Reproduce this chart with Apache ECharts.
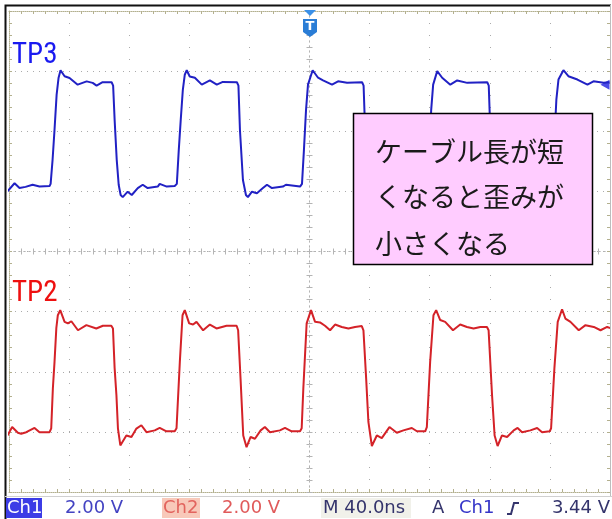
<!DOCTYPE html>
<html><head><meta charset="utf-8">
<script src="https://cdn.jsdelivr.net/npm/echarts@6/dist/echarts.min.js"></script>
<style>html,body{margin:0;padding:0;background:#fff}#c{width:612px;height:519px}</style>
</head><body><div id="c"></div>
<script>
// Time axis (ns) and screen voltage (V) — 40 ns/div, 2 V/div
const X_MIN = -200, X_MAX = 200, X_DIV = 40;
const Y_MIN = -8, Y_MAX = 8, Y_DIV = 2;
const CH1_OFFSET = 2.11, TRIG_LEVEL = 3.44;

const tp3Time = [-201,-196.3,-193,-189,-184.3,-179.7,-173,-172.3,-171,-169.7,-168.3,-167,-165.7,-163,-159.7,-154.3,-148.3,-144.3,-141.7,-137.7,-131.7,-130.7,-129.7,-128.3,-127,-125.7,-124.3,-121,-118.3,-114.3,-111,-107.7,-101,-99.7,-95,-89.7,-88.3,-87,-85.7,-84.3,-83,-81.7,-79.7,-76.3,-71.7,-66.3,-61.7,-57.7,-48.3,-47.3,-46.3,-44.3,-42.3,-41,-38.3,-35,-31,-28.3,-25,-17.7,-15.7,-6.3,-5,-3.7,-2.3,-1,2.1,5.7,9,15,19,25,35,36,37,39,41,42.3,45,48.3,52.3,55,58.3,65.7,67.7,77,78.3,79.7,81,82.3,85,88.3,93.7,98.3,105,118.3,119.3,120.3,122.3,124.3,125.7,128.3,131.7,135.7,138.3,141.7,147,151.7,160.3,161.3,163,164.3,165.7,169,172.3,178.3,185,189,195.7,199.7];
const tp3Volt = [2.0,2.27,2.11,2.15,2.22,2.16,2.18,2.25,3.05,4.05,5.22,5.78,6.03,5.83,5.77,5.55,5.66,5.61,5.52,5.63,5.63,5.52,4.38,3.05,2.22,1.88,1.81,1.99,1.88,2.11,2.22,2.11,2.16,2.25,2.16,2.18,2.25,3.38,4.38,5.38,5.88,6.03,5.82,5.78,5.55,5.69,5.55,5.64,5.63,5.52,4.05,2.38,1.88,1.81,1.99,1.94,2.11,2.22,2.11,2.16,2.22,2.16,2.25,3.38,4.72,5.55,6.03,5.78,5.69,5.55,5.66,5.61,5.63,5.52,4.05,2.38,1.88,1.81,1.99,1.92,2.12,2.22,2.12,2.16,2.22,2.17,2.25,3.38,4.72,5.55,6.0,5.78,5.55,5.69,5.61,5.63,5.52,4.05,2.38,1.88,1.81,1.99,1.95,2.12,2.22,2.12,2.16,2.22,2.17,2.25,3.72,5.05,5.72,6.03,5.83,5.72,5.55,5.66,5.61,5.63];

const tp2Time = [-201,-197.9,-194.1,-191.9,-188.5,-183,-179.7,-173,-171.9,-170.8,-169.7,-168.5,-167.5,-165.9,-163,-160.8,-158.5,-154.1,-148.5,-141.9,-137.5,-131.9,-130.8,-129.7,-128.5,-127.5,-125.9,-124.8,-121.9,-118.5,-115.2,-111.9,-108.5,-103,-99.7,-95.2,-89.7,-88.5,-86.3,-84.5,-83,-80.1,-77.5,-75.2,-70.8,-66.3,-61.9,-55.2,-48.5,-47.5,-45.9,-44.1,-41.9,-39.2,-36.3,-32.5,-29.7,-26.3,-19.7,-16.3,-11.9,-6.3,-5.2,-4.1,-1.9,1,3.7,7,10.3,13.7,17,21.5,25.9,30.3,34.8,35.9,37.7,39.2,41.5,44.8,48.1,53.2,58.1,62.5,68.1,71.5,77,78.1,80.3,82.5,84.3,87,90.3,95.5,100.3,104.8,109.2,113.7,118.1,119.2,121.5,123.2,125.2,128.1,131.5,135.9,138.5,141.5,147,151.5,154.8,159.9,160.8,163,165.2,168.1,170.3,173.7,179.2,183.7,189.2,193.7,198.1,200.3];
const tp2Volt = [-6.12,-5.84,-6.03,-6.06,-6.01,-5.87,-6.01,-6.01,-5.88,-4.55,-3.67,-2.55,-2.12,-1.95,-2.34,-2.39,-2.32,-2.62,-2.45,-2.56,-2.47,-2.47,-2.56,-3.88,-4.78,-5.88,-6.45,-6.51,-6.12,-6.17,-5.89,-5.78,-6.01,-5.95,-5.87,-5.98,-5.98,-5.88,-3.67,-2.12,-1.95,-2.39,-2.43,-2.34,-2.62,-2.43,-2.56,-2.47,-2.47,-2.62,-4.22,-6.12,-6.51,-6.17,-6.23,-5.95,-5.84,-6.01,-5.95,-5.87,-5.98,-5.98,-5.88,-4.55,-2.39,-1.95,-2.34,-2.36,-2.47,-2.62,-2.43,-2.51,-2.56,-2.51,-2.48,-2.62,-4.22,-5.67,-6.47,-6.12,-6.21,-5.84,-6.03,-5.95,-5.87,-5.98,-5.98,-5.84,-3.67,-2.12,-1.95,-2.28,-2.34,-2.62,-2.43,-2.51,-2.56,-2.51,-2.51,-2.62,-4.78,-6.12,-6.47,-6.12,-6.17,-5.95,-5.87,-6.01,-5.95,-5.87,-6.01,-5.98,-5.88,-3.88,-2.34,-1.92,-2.23,-2.34,-2.62,-2.45,-2.51,-2.62,-2.51,-2.55];

const seriesNames = ['TP3', 'TP2'];
const noteLines = ['ケーブル長が短', 'くなると歪みが', '小さくなる'];
const statusItems = { ch1Scale: '2.00 V', ch2Scale: '2.00 V', timebase: 'M 40.0ns', trigSrc: 'Ch1', trigLevel: '3.44 V' };

const zip = (a, b) => a.map((v, i) => [v, b[i]]);

const chart = echarts.init(document.getElementById('c'), null, { renderer: 'canvas' });

const gridCol = '#ababab';
const centerCol = '#b4b4b4';
const edgeCol = '#b3b08e';
function edgeX(pos, inside, onZero) {
  const c = onZero ? centerCol : edgeCol;
  return {
    type: 'value', min: X_MIN, max: X_MAX, interval: X_DIV, position: pos,
    axisLine: { show: true, onZero: !!onZero, onZeroAxisIndex: 0, lineStyle: { color: c, width: 1, type: onZero ? [1, 4] : [1, 1] } },
    axisTick: { show: true, inside: inside, length: 3, lineStyle: { color: c } },
    minorTick: { show: true, splitNumber: 5, length: 3, lineStyle: { color: c } },
    axisLabel: { show: false }, splitLine: { show: false }
  };
}
function edgeY(pos, inside, onZero) {
  const c = onZero ? centerCol : edgeCol;
  return {
    type: 'value', min: Y_MIN, max: Y_MAX, interval: Y_DIV, position: pos,
    axisLine: { show: true, onZero: !!onZero, onZeroAxisIndex: 0, lineStyle: { color: c, width: 1, type: onZero ? [1, 4] : [1, 1] } },
    axisTick: { show: true, inside: inside, length: 3, lineStyle: { color: c } },
    minorTick: { show: true, splitNumber: 5, length: 3, lineStyle: { color: c } },
    axisLabel: { show: false }, splitLine: { show: false }
  };
}

const xMain = edgeX('bottom', true, false);
xMain.splitLine = { show: true, lineStyle: { color: gridCol, width: 1, type: [1, 11] } };
const yMain = edgeY('left', true, false);
yMain.splitLine = { show: true, lineStyle: { color: gridCol, width: 1, type: [1, 5] } };

const option = {
  animation: false,
  backgroundColor: '#ffffff',
  grid: { left: 9, right: 2, top: 11, bottom: 27, containLabel: false },
  xAxis: [xMain, edgeX('top', true, false), edgeX('bottom', true, true), edgeX('bottom', false, true)],
  yAxis: [yMain, edgeY('right', true, false), edgeY('left', true, true), edgeY('left', false, true)],
  series: [
    {
      name: seriesNames[0], type: 'line', xAxisIndex: 0, yAxisIndex: 0,
      data: zip(tp3Time, tp3Volt), showSymbol: false, smooth: false, z: 5,
      lineStyle: { color: '#2121c4', width: 2 },
      markPoint: {
        silent: true, symbol: 'triangle', symbolSize: [10, 9], symbolRotate: 90, symbolOffset: [-5, 0],
        itemStyle: { color: '#4b4be6' }, label: { show: false },
        data: [{ coord: [X_MAX, CH1_OFFSET + TRIG_LEVEL] }]
      }
    },
    {
      name: seriesNames[1], type: 'line', xAxisIndex: 0, yAxisIndex: 0,
      data: zip(tp2Time, tp2Volt), showSymbol: false, smooth: false, z: 5,
      lineStyle: { color: '#d42228', width: 2 }
    }
  ],
  graphic: [
    // outer frame
    { type: 'polyline', shape: { points: [[5.5, 519], [5.5, 5.5], [611, 5.5]] }, style: { stroke: '#111', lineWidth: 2, fill: null }, z: 20 },
    { type: 'line', shape: { x1: 610.5, y1: 5, x2: 610.5, y2: 496 }, style: { stroke: '#bdbdbd', lineWidth: 1 }, z: 20 },
    { type: 'line', shape: { x1: 5, y1: 496.5, x2: 612, y2: 496.5 }, style: { stroke: '#d0d0d0', lineWidth: 1 }, z: 20 },
    // trigger position marker
    { type: 'polygon', shape: { points: [[304, 10], [316, 10], [310, 16]] }, style: { fill: '#3a90e8' }, z: 20 },
    { type: 'polygon', shape: { points: [[303, 19], [317, 19], [317, 32], [310, 37], [303, 32]] }, style: { fill: '#2a7dd6' }, z: 20 },
    { type: 'text', x: 310, y: 27, style: { text: 'T', fill: '#fff', font: 'bold 13px "DejaVu Sans"', align: 'center', verticalAlign: 'middle' }, z: 21 },
    // channel labels
    { type: 'text', x: 12, y: 56, style: { text: seriesNames[0], fill: '#1a1af0', font: '29px "Liberation Sans Narrow", "Roboto Condensed", "Liberation Sans"', verticalAlign: 'middle' }, z: 20 },
    { type: 'text', x: 12, y: 294, style: { text: seriesNames[1], fill: '#ee1010', font: '29px "Liberation Sans Narrow", "Roboto Condensed", "Liberation Sans"', verticalAlign: 'middle' }, z: 20 },
    // note box
    { type: 'rect', shape: { x: 353.5, y: 113.5, width: 239, height: 151 }, style: { fill: '#ffccff', stroke: '#000', lineWidth: 1.5 }, z: 30 },
    { type: 'text', x: 375, y: 152, style: { text: noteLines[0], fill: '#1a1a1a', font: '27px "Noto Sans CJK JP"', verticalAlign: 'middle' }, z: 31 },
    { type: 'text', x: 375, y: 197, style: { text: noteLines[1], fill: '#1a1a1a', font: '27px "Noto Sans CJK JP"', verticalAlign: 'middle' }, z: 31 },
    { type: 'text', x: 375, y: 244, style: { text: noteLines[2], fill: '#1a1a1a', font: '27px "Noto Sans CJK JP"', verticalAlign: 'middle' }, z: 31 },
    // status bar
    { type: 'rect', shape: { x: 6, y: 498, width: 36, height: 20 }, style: { fill: '#3c3ce6' }, z: 20 },
    { type: 'text', x: 7, y: 508, style: { text: 'Ch1', fill: '#ffffff', font: '18px "DejaVu Sans"', verticalAlign: 'middle' }, z: 21 },
    { type: 'text', x: 65, y: 508, style: { text: statusItems.ch1Scale, fill: '#4343c2', font: '18px "DejaVu Sans"', verticalAlign: 'middle' }, z: 21 },
    { type: 'rect', shape: { x: 162, y: 498, width: 38, height: 20 }, style: { fill: '#f8c9ba' }, z: 20 },
    { type: 'text', x: 163, y: 508, style: { text: 'Ch2', fill: '#e2645e', font: '18px "DejaVu Sans"', verticalAlign: 'middle' }, z: 21 },
    { type: 'text', x: 222, y: 508, style: { text: statusItems.ch2Scale, fill: '#e05a5a', font: '18px "DejaVu Sans"', verticalAlign: 'middle' }, z: 21 },
    { type: 'rect', shape: { x: 321, y: 498, width: 90, height: 20 }, style: { fill: '#f1f1ea' }, z: 20 },
    { type: 'text', x: 323, y: 508, style: { text: statusItems.timebase, fill: '#34346c', font: '18px "DejaVu Sans"', verticalAlign: 'middle' }, z: 21 },
    { type: 'text', x: 432, y: 508, style: { text: 'A', fill: '#34346c', font: '18px "DejaVu Sans"', verticalAlign: 'middle' }, z: 21 },
    { type: 'text', x: 459, y: 508, style: { text: statusItems.trigSrc, fill: '#3535c8', font: '18px "DejaVu Sans"', verticalAlign: 'middle' }, z: 21 },
    { type: 'polyline', shape: { points: [[507, 514], [511, 514], [514, 503], [519, 503]] }, style: { stroke: '#34346c', lineWidth: 2, fill: null }, z: 21 },
    { type: 'text', x: 610, y: 508, style: { text: statusItems.trigLevel, fill: '#34346c', font: '18px "DejaVu Sans"', align: 'right', verticalAlign: 'middle' }, z: 21 }
  ]
};
chart.setOption(option);
</script>
</body></html>
